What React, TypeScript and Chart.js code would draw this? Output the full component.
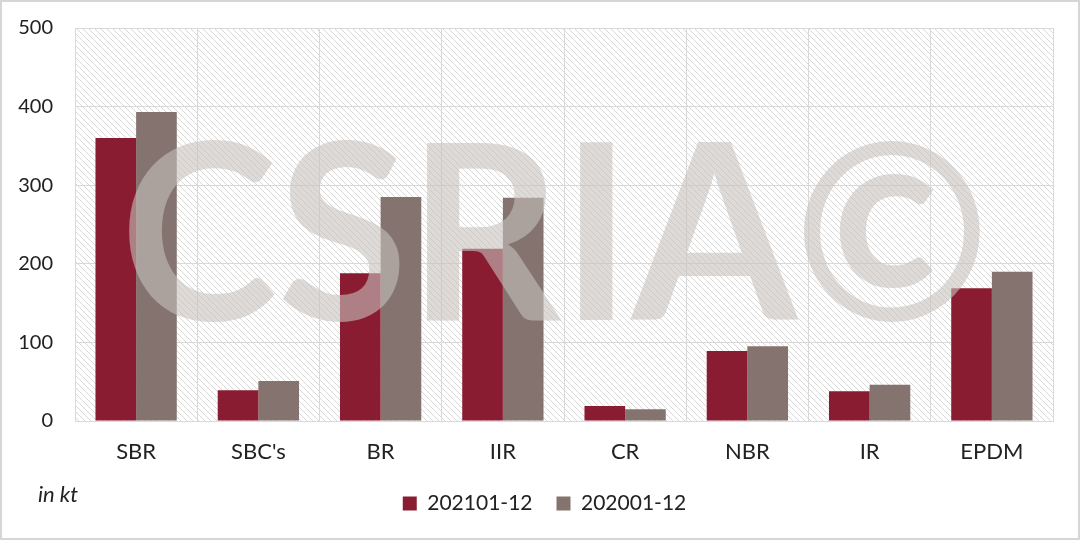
import React, { useEffect, useRef } from 'react';
import { Chart, registerables } from 'chart.js';
Chart.register(...registerables);

const categories = ['SBR', "SBC's", 'BR', 'IIR', 'CR', 'NBR', 'IR', 'EPDM'];
const series2021 = [360, 39, 188, 219, 19, 89, 38, 169];
const series2020 = [393, 51, 285, 284, 15, 95, 46, 190];
const seriesLabels = ['202101-12', '202001-12'];
const seriesColors = ['#8a1c31', '#85736f'];
const yMin = 0;
const yMax = 500;
const yStep = 100;
const unitLabel = 'in kt';
const watermark = 'CSRIA©';

const FONT = 'Lato, "Open Sans", sans-serif';

function makePattern(ctx: CanvasRenderingContext2D) {
  const size = 6;
  const c = document.createElement('canvas');
  c.width = size;
  c.height = size;
  const p = c.getContext('2d')!;
  p.fillStyle = '#ffffff';
  p.fillRect(0, 0, size, size);
  p.strokeStyle = '#d8d8d8';
  p.lineWidth = 1;
  p.beginPath();
  p.moveTo(-1, -1);
  p.lineTo(size + 1, size + 1);
  p.moveTo(-1, size - 1);
  p.lineTo(1, size + 1);
  p.moveTo(size - 1, -1);
  p.lineTo(size + 1, 1);
  p.stroke();
  return ctx.createPattern(c, 'repeat');
}

const decorPlugin = {
  id: 'decor',
  afterLayout(chart: any) {
    const lg = chart.legend;
    if (lg) {
      lg.left += 18;
      lg.right += 18;
    }
  },
  beforeDraw(chart: any) {
    const { ctx, chartArea } = chart;
    ctx.save();
    ctx.fillStyle = '#ffffff';
    ctx.fillRect(0, 0, chart.width, chart.height);
    const pat = makePattern(ctx);
    if (pat) {
      ctx.fillStyle = pat;
      ctx.fillRect(chartArea.left, chartArea.top, chartArea.right - chartArea.left, chartArea.bottom - chartArea.top);
    }
    ctx.restore();
  },
  afterDatasetsDraw(chart: any) {
    const { ctx } = chart;
    ctx.save();
    const size = 245;
    ctx.font = `bold ${size}px ${FONT}`;
    const w = ctx.measureText(watermark).width;
    const targetW = 870;
    ctx.translate(120, 320);
    ctx.scale(targetW / w, 1);
    ctx.fillStyle = 'rgba(198,194,188,0.6)';
    ctx.textBaseline = 'alphabetic';
    ctx.fillText(watermark, 0, 0);
    ctx.restore();
  },
  afterDraw(chart: any) {
    const { ctx } = chart;
    ctx.save();
    ctx.font = `italic 22px ${FONT}`;
    ctx.fillStyle = '#222222';
    ctx.textBaseline = 'middle';
    ctx.fillText(unitLabel, 38, 495);
    ctx.strokeStyle = '#d6d6d6';
    ctx.lineWidth = 2;
    ctx.strokeRect(1, 1, chart.width - 2, chart.height - 2);
    ctx.restore();
  },
};

export default function App() {
  const ref = useRef<HTMLCanvasElement>(null);
  useEffect(() => {
    if (!ref.current) return;
    const chart = new Chart(ref.current, {
      type: 'bar',
      data: {
        labels: categories,
        datasets: [
          { label: seriesLabels[0], data: series2021, backgroundColor: seriesColors[0], barPercentage: 1, categoryPercentage: 0.665 },
          { label: seriesLabels[1], data: series2020, backgroundColor: seriesColors[1], barPercentage: 1, categoryPercentage: 0.665 },
        ],
      },
      options: {
        animation: false,
        responsive: false,
        maintainAspectRatio: false,
        layout: { padding: { left: 0, right: 27, top: 28, bottom: 16 } },
        plugins: {
          legend: {
            position: 'bottom',
            labels: {
              boxWidth: 14,
              boxHeight: 14,
              padding: 24,
              color: '#222222',
              font: { family: FONT, size: 21 },
            },
          },
          tooltip: { enabled: false },
        },
        scales: {
          x: {
            grid: { color: '#d9d9d9', offset: true, drawTicks: false, lineWidth: 1 },
            border: { color: '#d9d9d9' },
            ticks: { color: '#222222', font: { family: FONT, size: 22 }, padding: 18 },
            afterFit: (s: any) => { s.height = 48; s.paddingLeft = 0; s.paddingRight = 0; },
          },
          y: {
            min: yMin,
            max: yMax,
            grid: { color: '#d9d9d9', drawTicks: false, lineWidth: 1 },
            border: { display: false },
            ticks: { stepSize: yStep, color: '#222222', font: { family: FONT, size: 20 }, padding: 22 },
            afterFit: (s: any) => { s.width = 75; s.paddingTop = 0; s.paddingBottom = 0; },
          },
        },
      },
      plugins: [decorPlugin],
    });
    return () => chart.destroy();
  }, []);
  return (
    <div style={{ position: 'fixed', left: 0, top: 0, width: 1080, height: 540, background: '#fff' }}>
      <canvas ref={ref} width={1080} height={540} style={{ display: 'block' }} />
    </div>
  );
}
